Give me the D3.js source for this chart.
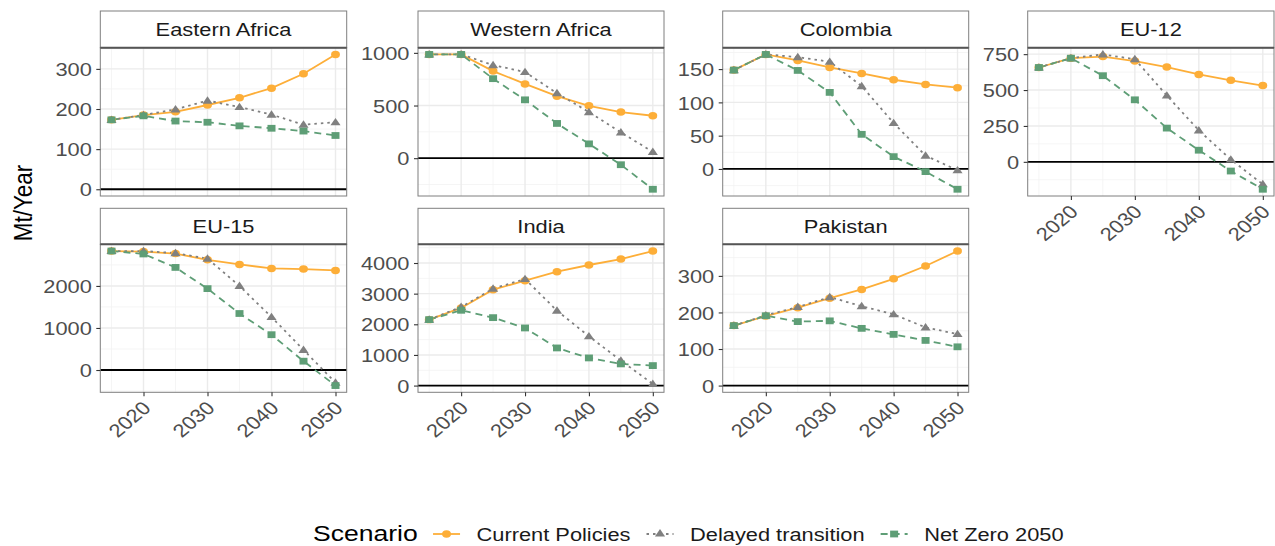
<!DOCTYPE html>
<html><head><meta charset="utf-8">
<script src="https://cdn.jsdelivr.net/npm/d3@7"></script>
<style>body{margin:0;background:#fff} svg{display:block} text{font-family:"Liberation Sans",Arial,sans-serif}</style>
</head><body><svg id="c" width="1275" height="546"></svg>
<script>
const years = [2015,2020,2025,2030,2035,2040,2045,2050];
const regions = ["Eastern Africa","Western Africa","Colombia","EU-12","EU-15","India","Pakistan"];
const scenarios = ["Current Policies","Delayed transition","Net Zero 2050"];
const currentPolicies = [
 [173,185,193,210,228,252,288,336],
 [985,985,827,705,589,497,438,403],
 [148.5,172,163,152.5,143.5,134,127,122],
 [657,722,733,702,660,609,568,531],
 [2830,2816,2770,2620,2512,2416,2400,2368],
 [2152,2533,3130,3424,3717,3935,4130,4391],
 [164,190,213,239,263,292,327,368]
];
const delayedTransition = [
 [173,185,199,221,205,186,161,167],
 [985,985,884,818,617,438,245,60],
 [148.5,172,168,161,124.5,69,20,-2],
 [657,722,748,715,462,219,16,-156],
 [2830,2830,2780,2650,2000,1260,480,-300],
 [2152,2565,3163,3478,2446,1609,815,54],
 [164,192,215,242,217,195,159,141]
];
const netZero2050 = [
 [173,183,170,167,158,152,145,134],
 [985,985,755,554,330,136,-62,-295],
 [148.5,172,148,115,52,18.5,-4,-30.5],
 [657,722,600,432,235,81,-64,-191],
 [2830,2760,2440,1936,1344,840,210,-370],
 [2152,2457,2217,1880,1228,902,707,652],
 [164,191,175,177,156.5,140,123.5,106]
];
const yTicks = [[0,100,200,300],[0,500,1000],[0,50,100,150],[0,250,500,750],[0,1000,2000],[0,1000,2000,3000,4000],[0,100,200,300]];
const xTicks = [2020,2030,2040,2050];
const xMinorTicks = [2015,2025,2035,2045];
const yTitle = "Mt/Year";
const legendTitle = "Scenario";

// ---- layout / style ----
const SX = 1.18;
const fsS = 18.5, fsT = 22.5;
const colX = [[100.3,346.7],[418,664],[722.7,968.7],[1027.7,1274]];
const rowY = [{strip:[11,47.7], plot:[47.7,196]},{strip:[208.3,244.3],plot:[244.3,392.3]}];
const pos = [[0,0],[0,1],[0,2],[0,3],[1,0],[1,1],[1,2]];
const hasXAxis = [false,false,false,true,true,true,true];
const colors = ["#FDAE38","#808080","#5E9E76"];
const dashes = [null,"2.5,4","7,5"];
const symbols = [d3.symbolCircle, d3.symbolTriangle, d3.symbolSquare];
const symSizes = [44, 32, 46];
const seriesData = [currentPolicies, delayedTransition, netZero2050];
const lineW = 1.8;

const svg = d3.select("#c");

regions.forEach((name,i)=>{
  const [r,c] = pos[i];
  const [x0,x1] = colX[c];
  const [py0,py1] = rowY[r].plot;
  const [sy0,sy1] = rowY[r].strip;
  const vals = seriesData.flatMap(s=>s[i]).concat([0]);
  const lo=d3.min(vals), hi=d3.max(vals), pad=(hi-lo)*0.05;
  const y = d3.scaleLinear().domain([lo-pad,hi+pad]).range([py1,py0]);
  const x = d3.scaleLinear().domain([2015-1.75,2050+1.75]).range([x0,x1]);
  const g = svg.append("g");
  g.append("rect").attr("x",x0).attr("y",py0).attr("width",x1-x0).attr("height",py1-py0).attr("fill","#fff");
  const ticks = yTicks[i]; const step = ticks[1]-ticks[0];
  const yMinor=[];
  for(let v=ticks[0]-step; v<=ticks[ticks.length-1]+step; v+=step){const m=v+step/2; if(m>y.domain()[0]&&m<y.domain()[1]) yMinor.push(m);}
  const grid = g.append("g");
  grid.selectAll(".ym").data(yMinor).join("line").attr("x1",x0).attr("x2",x1).attr("y1",d=>y(d)).attr("y2",d=>y(d)).attr("stroke","#F2F2F2").attr("stroke-width",0.8);
  grid.selectAll(".xm").data(xMinorTicks).join("line").attr("y1",py0).attr("y2",py1).attr("x1",d=>x(d)).attr("x2",d=>x(d)).attr("stroke","#F2F2F2").attr("stroke-width",0.8);
  grid.selectAll(".yM").data(ticks).join("line").attr("x1",x0).attr("x2",x1).attr("y1",d=>y(d)).attr("y2",d=>y(d)).attr("stroke","#EBEBEB").attr("stroke-width",1.4);
  grid.selectAll(".xM").data(xTicks).join("line").attr("y1",py0).attr("y2",py1).attr("x1",d=>x(d)).attr("x2",d=>x(d)).attr("stroke","#EBEBEB").attr("stroke-width",1.4);
  g.append("line").attr("x1",x0).attr("x2",x1).attr("y1",y(0)).attr("y2",y(0)).attr("stroke","#000").attr("stroke-width",1.8);
  const line = d3.line().x((d,k)=>x(years[k])).y(d=>y(d));
  seriesData.forEach((s,k)=>{
    g.append("path").attr("d",line(s[i])).attr("fill","none").attr("stroke",colors[k]).attr("stroke-width",lineW)
      .attr("stroke-dasharray",dashes[k]);
  });
  seriesData.forEach((s,k)=>{
    const sym = d3.symbol().type(symbols[k]).size(symSizes[k]);
    g.selectAll(null).data(s[i]).join("path").attr("d",sym)
      .attr("transform",(d,j)=>`translate(${x(years[j])},${y(d)+(k===1?0.6:0)}) scale(${SX},1)`)
      .attr("fill",colors[k]);
  });
  g.append("rect").attr("x",x0).attr("y",py0).attr("width",x1-x0).attr("height",py1-py0).attr("fill","none").attr("stroke","#7F7F7F").attr("stroke-width",1);
  // strip
  g.append("rect").attr("x",x0).attr("y",sy0).attr("width",x1-x0).attr("height",sy1-sy0).attr("fill","#fff").attr("stroke","#7F7F7F").attr("stroke-width",1);
  g.append("line").attr("x1",x0).attr("x2",x1).attr("y1",sy1).attr("y2",sy1).attr("stroke","#555").attr("stroke-width",2);
  g.append("text").text(name).attr("text-anchor","middle").attr("font-size",fsS).attr("fill","#1A1A1A")
    .attr("transform",`translate(${(x0+x1)/2},${(sy0+sy1)/2+0.36*fsS}) scale(${SX},1)`);
  // y axis
  const ya = g.append("g").attr("transform",`translate(${x0},0)`)
    .call(d3.axisLeft(y).tickValues(ticks).tickSize(4).tickFormat(d3.format("d")));
  ya.select(".domain").remove();
  ya.selectAll(".tick line").attr("stroke","#333").attr("stroke-width",1.1);
  ya.selectAll(".tick text").attr("x",0).attr("dy",null).attr("font-size",fsS).attr("fill","#4D4D4D")
    .attr("font-family",null).attr("transform",`translate(-8.5,${0.36*fsS}) scale(${SX},1)`);
  ya.attr("font-family",null).attr("font-size",null);
  if(hasXAxis[i]){
    const xa = g.append("g").attr("transform",`translate(0,${py1})`)
      .call(d3.axisBottom(x).tickValues(xTicks).tickSize(4).tickFormat(d3.format("d")));
    xa.select(".domain").remove();
    xa.attr("font-family",null).attr("font-size",null);
    xa.selectAll(".tick line").attr("stroke","#333").attr("stroke-width",1.1);
    xa.selectAll(".tick text").attr("x",0).attr("y",0).attr("dy",null).attr("text-anchor","end")
      .attr("font-size",fsS).attr("fill","#4D4D4D")
      .attr("transform",`translate(8,17) scale(${SX},1) rotate(-45)`);
  }
});

// y title
svg.append("text").text(yTitle).attr("text-anchor","middle").attr("font-size",fsT).attr("fill","#000")
  .attr("transform",`translate(31.5,203) scale(${SX},1) rotate(-90)`);

// legend
const lg = svg.append("g");
const baseY = 541, keyY = 534;
let lx = 313;
const tt = lg.append("text").text(legendTitle).attr("font-size",fsT).attr("fill","#000")
  .attr("transform",`translate(${lx},${baseY}) scale(${SX},1)`);
lx += tt.node().getComputedTextLength()*SX + 15.3;
scenarios.forEach((s,k)=>{
  lg.append("line").attr("x1",lx).attr("x2",lx+27).attr("y1",keyY).attr("y2",keyY)
    .attr("stroke",colors[k]).attr("stroke-width",lineW).attr("stroke-dasharray",dashes[k]);
  lg.append("path").attr("d",d3.symbol().type(symbols[k]).size(symSizes[k]))
    .attr("transform",`translate(${lx+13.5},${keyY}) scale(${SX},1)`).attr("fill",colors[k]);
  const tx = lx + 43.5;
  const t = lg.append("text").text(s).attr("font-size",fsS).attr("fill","#1A1A1A")
    .attr("transform",`translate(${tx},${baseY}) scale(${SX},1)`);
  lx = tx + t.node().getComputedTextLength()*SX + 16;
});
</script></body></html>
